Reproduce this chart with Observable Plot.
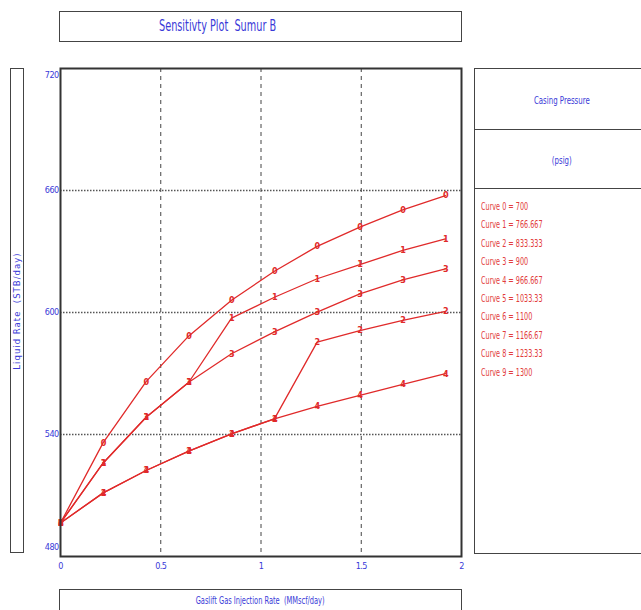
<!DOCTYPE html>
<html>
<head>
<meta charset="utf-8">
<script src="https://cdn.jsdelivr.net/npm/d3@7"></script>
<script src="https://cdn.jsdelivr.net/npm/@observablehq/plot@0.6"></script>
<style>
  html, body { margin: 0; padding: 0; background: #fff; }
  #wrap { position: relative; width: 641px; height: 610px; overflow: hidden;
    font-family: "Liberation Sans Narrow", "DejaVu Sans Condensed", "Liberation Sans", sans-serif; }
  .box { position: absolute; border: 1.5px solid #444; background: #fff; box-sizing: border-box; }
  .blue { color: #3a3ad8; }
  #chart { position: absolute; left: 0; top: 0; }
  .narrow { display: inline-block; white-space: nowrap; line-height: 1; }
</style>
</head>
<body>
<div id="wrap">
  <div id="chart"></div>
  <div class="box" style="left:59px; top:11px; width:403px; height:31px;">
    <div class="blue narrow" style="position:absolute; left:99px; top:7px; font-size:15px; transform:scaleX(0.72); transform-origin:left center;">Sensitivty Plot&nbsp; Sumur B</div>
  </div>
  <div class="box" style="left:10px; top:68px; width:14px; height:485px;">
    <div class="blue narrow" style="position:absolute; left:50%; top:50%; transform: translate(-50%,-50%) rotate(-90deg); font-size:9.5px; letter-spacing:1px;">Liquid Rate&nbsp; (STB/day)</div>
  </div>
  <div class="box" style="left:59px; top:589px; width:403px; height:30px;">
    <div style="position:absolute; left:0; right:0; top:1px; text-align:center; line-height:1;">
      <span class="blue narrow" style="font-size:10px; transform:scaleX(0.74);">Gaslift Gas Injection Rate&nbsp; (MMscf/day)</span>
    </div>
  </div>
  <div class="box" style="left:474px; top:68px; width:175px; height:486px;">
    <div style="position:absolute; left:0; width:174px; top:22px; text-align:center; line-height:1;">
      <span class="blue narrow" style="font-size:10px; transform:scaleX(0.78);">Casing Pressure</span>
    </div>
    <div style="position:absolute; left:0; right:0; top:60px; border-top:1.5px solid #444;"></div>
    <div style="position:absolute; left:0; width:174px; top:82px; text-align:center; line-height:1;">
      <span class="blue narrow" style="font-size:10px; transform:scaleX(0.78);">(psig)</span>
    </div>
    <div style="position:absolute; left:0; right:0; top:119px; border-top:1.5px solid #444;"></div>
    <div id="legend" style="position:absolute; left:6px; top:129px; font-size:10px; color:#e23c3c; line-height:18.4px; transform:scaleX(0.72); transform-origin:left top; white-space:nowrap;"></div>
  </div>
</div>
<script>
// Gas injection rates (x, MMscf/day)
const gasRates = [0, 0.213, 0.427, 0.64, 0.853, 1.067, 1.28, 1.493, 1.707, 1.92];
// Visible curves (liquid rate, STB/day); several legend curves coincide
const curveA = [496.5, 536, 566, 588.5, 606, 620.3, 632.5, 642, 650.5, 657.5];
const curveB = [496.5, 526, 548.5, 565.7, 597.2, 607.5, 616.6, 623.6, 630.5, 636.2];
const curveC = [496.5, 526, 548.5, 565.7, 579.7, 590.5, 600.2, 609.2, 616, 621.5];
const curveD = [496.5, 511.3, 522.3, 531.8, 540.3, 547.7, 585.4, 591.1, 596.1, 600.6];
const curveE = [496.5, 511.3, 522.3, 531.8, 540.3, 547.7, 553.8, 559.2, 564.6, 569.9];
const curveMarkers = ["0", "1", "3", "2", "4"];
const curveSeries = [curveA, curveB, curveC, curveD, curveE];
// Legend
const legendNames = ["Curve 0", "Curve 1", "Curve 2", "Curve 3", "Curve 4", "Curve 5", "Curve 6", "Curve 7", "Curve 8", "Curve 9"];
const casingPressures = ["700", "766.667", "833.333", "900", "966.667", "1033.33", "1100", "1166.67", "1233.33", "1300"];
const yTicks = [480, 540, 600, 660, 720];
const xTicks = [0, 0.5, 1, 1.5, 2];

const rows = [];
curveSeries.forEach((s, i) => s.forEach((v, j) => rows.push({x: gasRates[j], y: v, curve: curveMarkers[i]})));

const blue = "#3a3ad8";
const red = "#e02a2a";

const plot = Plot.plot({
  width: 641,
  height: 610,
  marginLeft: 60,
  marginRight: 180,
  marginTop: 68,
  marginBottom: 54,
  style: {fontFamily: '"Liberation Sans Narrow", "DejaVu Sans Condensed", sans-serif', fontSize: "9px", letterSpacing: "-0.6px", background: "transparent"},
  x: {domain: [0, 2]},
  y: {domain: [480, 720]},
  marks: [
    Plot.ruleY([540, 600, 660], {stroke: "#555", strokeWidth: 1.6, strokeDasharray: "1.5,1.5"}),
    Plot.ruleX([0.5, 1, 1.5], {stroke: "#444", strokeWidth: 1, strokeDasharray: "4,4"}),
    Plot.line(rows, {x: "x", y: "y", z: "curve", stroke: red, strokeWidth: 1.3}),
    Plot.text(rows, {x: "x", y: "y", text: "curve", fill: red, fontWeight: "bold", fontSize: 9}),
    Plot.frame({stroke: "#333", strokeWidth: 2}),
    Plot.axisY(yTicks.filter(d => d > 480 && d < 720), {tickSize: 0, tickPadding: 2, fill: blue, label: null}),
    Plot.axisY([720], {tickSize: 0, tickPadding: 2, fill: blue, label: null, dy: 7}),
    Plot.axisY([480], {tickSize: 0, tickPadding: 2, fill: blue, label: null, dy: -9}),
    Plot.axisX(xTicks, {tickSize: 0, tickPadding: 6, fill: blue, label: null, tickFormat: d => String(d)})
  ]
});
document.getElementById("chart").appendChild(plot);

document.getElementById("legend").innerHTML = legendNames.map((n, i) => `<div>${n} = ${casingPressures[i]}</div>`).join("");
</script>
</body>
</html>
